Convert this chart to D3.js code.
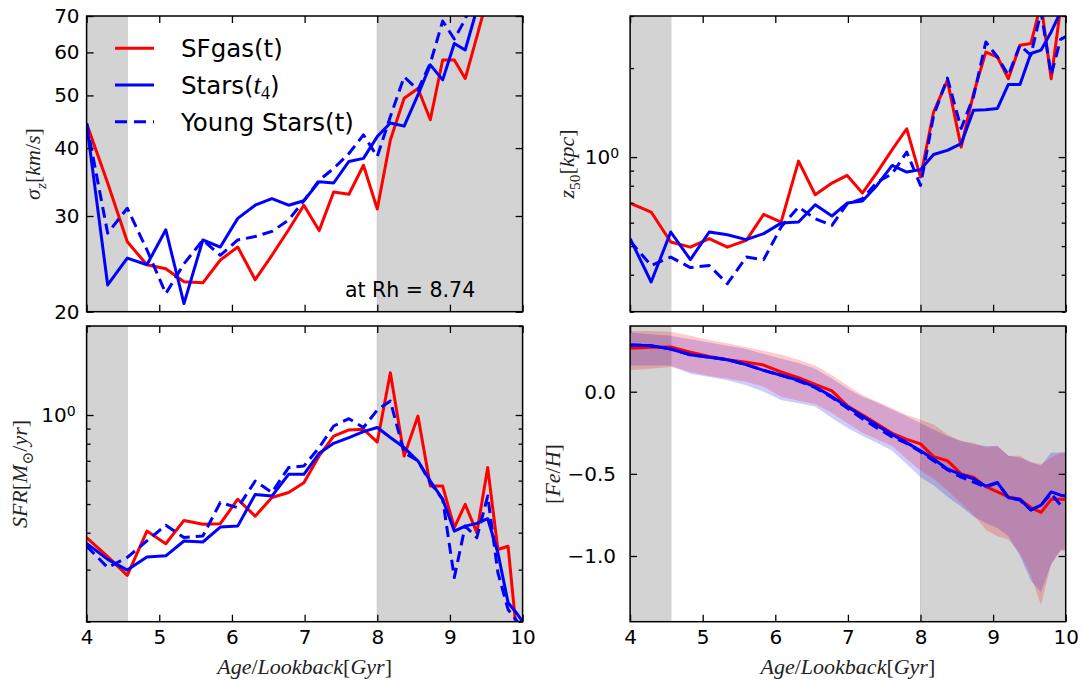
<!DOCTYPE html>
<html><head><meta charset="utf-8">
<script src="https://cdn.jsdelivr.net/npm/d3@7"></script>
<style>
body{margin:0;background:#fff}
</style>
</head><body>
<svg id="c" width="1083" height="684" font-family="DejaVu Sans"></svg>
<script>
// ---------------- data ----------------
const ages = [4.0, 4.29, 4.56, 4.83, 5.09, 5.34, 5.6, 5.84, 6.08, 6.32, 6.55, 6.78, 6.99, 7.2, 7.4, 7.61, 7.81, 8.0, 8.18, 8.37, 8.56, 8.73, 8.9, 9.06, 9.21, 9.37, 9.52, 9.66, 9.8, 9.93, 10.06];

const sigmaGas   = [44.4, 34.5, 26.9, 24.4, 24.0, 22.7, 22.6, 24.9, 26.3, 22.9, 25.4, 28.3, 31.4, 28.2, 33.2, 32.9, 37.2, 30.9, 41.4, 49.4, 51.5, 45.1, 58.1, 58.1, 53.7, 64.1, 76, 85, 92, 100, 110];
const sigmaStars = [44.4, 22.4, 25.1, 24.4, 28.3, 20.7, 27.1, 26.3, 29.7, 31.4, 32.3, 31.4, 32.0, 34.7, 34.5, 37.8, 38.3, 42.0, 44.5, 43.9, 50.1, 56.9, 53.4, 62.3, 60.6, 72, 82, 90, 100, 110, 120];
const sigmaYoung = [44.4, 27.9, 31.0, 26.0, 21.6, 24.5, 27.1, 25.4, 27.1, 27.5, 28.1, 29.5, 32.0, 34.9, 36.7, 39.1, 42.3, 38.6, 45.7, 54.1, 51.2, 57.3, 68.5, 63.5, 69, 80, 90, 100, 110, 120, 130];

const z50Gas   = [0.699, 0.652, 0.516, 0.496, 0.53, 0.496, 0.523, 0.64, 0.603, 0.969, 0.746, 0.817, 0.867, 0.756, 0.886, 1.06, 1.247, 0.856, 1.42, 1.817, 1.081, 1.64, 2.265, 2.18, 1.84, 2.39, 2.42, 3.3, 1.84, 3.2, 3.3];
const z50Stars = [0.53, 0.378, 0.558, 0.45, 0.558, 0.546, 0.526, 0.551, 0.598, 0.603, 0.69, 0.632, 0.699, 0.71, 0.802, 0.937, 0.89, 0.907, 1.02, 1.054, 1.11, 1.44, 1.445, 1.46, 1.76, 1.76, 2.24, 2.3, 2.65, 3.1, 3.3];
const z50Young = [0.52, 0.43, 0.459, 0.423, 0.43, 0.373, 0.459, 0.45, 0.58, 0.678, 0.619, 0.588, 0.695, 0.723, 0.823, 0.878, 1.04, 0.802, 1.38, 1.85, 1.25, 1.6, 2.45, 2.18, 1.89, 2.39, 2.21, 3.1, 1.9, 2.5, 2.6];

const sfrGas   = [0.385, 0.332, 0.287, 0.405, 0.367, 0.44, 0.427, 0.429, 0.519, 0.455, 0.526, 0.547, 0.59, 0.727, 0.849, 0.89, 0.895, 0.81, 1.39, 0.727, 0.992, 0.575, 0.575, 0.416, 0.499, 0.4, 0.664, 0.351, 0.36, 0.17, 0.15];
const sfrStars = [0.368, 0.325, 0.299, 0.331, 0.334, 0.375, 0.372, 0.418, 0.421, 0.539, 0.532, 0.63, 0.63, 0.742, 0.802, 0.839, 0.879, 0.907, 0.839, 0.776, 0.699, 0.598, 0.519, 0.405, 0.421, 0.43, 0.446, 0.342, 0.232, 0.212, 0.19];
const sfrYoung = [0.36, 0.305, 0.33, 0.375, 0.424, 0.385, 0.39, 0.506, 0.486, 0.598, 0.547, 0.664, 0.672, 0.776, 0.918, 0.972, 0.907, 1.04, 1.115, 0.746, 0.7, 0.59, 0.519, 0.282, 0.421, 0.385, 0.532, 0.293, 0.22, 0.2, 0.19];

const fehGas   = [0.265, 0.27, 0.272, 0.24, 0.215, 0.195, 0.18, 0.162, 0.12, 0.085, 0.045, 0.005, -0.085, -0.14, -0.195, -0.253, -0.29, -0.318, -0.395, -0.42, -0.5, -0.52, -0.578, -0.61, -0.64, -0.655, -0.705, -0.735, -0.655, -0.655, -0.66];
const fehStars = [0.285, 0.28, 0.26, 0.225, 0.21, 0.195, 0.165, 0.13, 0.1, 0.07, 0.03, -0.03, -0.09, -0.15, -0.205, -0.26, -0.31, -0.36, -0.41, -0.47, -0.505, -0.53, -0.575, -0.553, -0.645, -0.655, -0.72, -0.69, -0.61, -0.63, -0.64];
const fehYoung = [0.285, 0.28, 0.26, 0.225, 0.21, 0.195, 0.165, 0.13, 0.1, 0.065, 0.025, -0.035, -0.1, -0.165, -0.22, -0.275, -0.315, -0.365, -0.42, -0.475, -0.52, -0.55, -0.58, -0.555, -0.645, -0.66, -0.72, -0.69, -0.62, -0.69, -0.7];
const fehGasHi   = [0.37, 0.37, 0.365, 0.34, 0.315, 0.295, 0.27, 0.25, 0.225, 0.195, 0.16, 0.10, 0.04, -0.02, -0.06, -0.1, -0.14, -0.17, -0.2, -0.26, -0.3, -0.31, -0.34, -0.33, -0.39, -0.39, -0.43, -0.44, -0.4, -0.37, -0.37];
const fehGasLo   = [0.13, 0.14, 0.15, 0.12, 0.095, 0.08, 0.06, 0.03, -0.03, -0.055, -0.075, -0.13, -0.19, -0.25, -0.29, -0.33, -0.41, -0.48, -0.53, -0.6, -0.68, -0.75, -0.84, -0.88, -0.9, -0.98, -1.12, -1.3, -1.05, -0.97, -0.97];
const fehStarsHi = [0.36, 0.35, 0.34, 0.32, 0.3, 0.28, 0.26, 0.23, 0.2, 0.175, 0.14, 0.08, 0.02, -0.03, -0.065, -0.11, -0.15, -0.19, -0.23, -0.27, -0.3, -0.32, -0.33, -0.33, -0.39, -0.4, -0.43, -0.45, -0.37, -0.37, -0.37];
const fehStarsLo = [0.16, 0.16, 0.16, 0.11, 0.09, 0.07, 0.04, 0.0, -0.05, -0.07, -0.09, -0.16, -0.22, -0.27, -0.31, -0.36, -0.44, -0.52, -0.57, -0.64, -0.7, -0.76, -0.8, -0.83, -0.88, -1.0, -1.15, -1.22, -1.05, -0.96, -0.96];

const xTicks = [4, 5, 6, 7, 8, 9, 10];
const sigmaTicks = [20, 30, 40, 50, 60, 70];
const z50Major = [1];
const z50Minor = [0.3, 0.4, 0.5, 0.6, 0.7, 0.8, 0.9, 2, 3];
const sfrMajor = [1];
const sfrMinor = [0.2, 0.3, 0.4, 0.5, 0.6, 0.7, 0.8, 0.9, 2];
const fehTicks = [0.0, -0.5, -1.0];
const shadeSpans = [[4, 4.57], [8, 10]];
const legendLabels = ["SFgas(t)", "Stars(t4)", "Young Stars(t)"];
const annotation = "at Rh = 8.74";

// ---------------- layout ----------------
const svg = d3.select('#c');
const RED = '#ff0000', BLUE = '#0000ff';
const SERIF = '"Liberation Serif", "DejaVu Serif", serif';
const LAY = {
  tl: {x0: 86.6, x1: 522.6, y0: 16, y1: 311.7},
  tr: {x0: 630.1, x1: 1065.7, y0: 16, y1: 311.7},
  bl: {x0: 86.6, x1: 522.6, y0: 326, y1: 621.7},
  br: {x0: 630.1, x1: 1065.7, y0: 326, y1: 621.7}
};

function panel(L, yScale, id) {
  const x = d3.scaleLinear().domain([4, 10]).range([L.x0, L.x1]);
  const y = yScale.range([L.y1, L.y0]);
  svg.append('clipPath').attr('id', id).append('rect')
    .attr('x', L.x0).attr('y', L.y0).attr('width', L.x1 - L.x0).attr('height', L.y1 - L.y0);
  const g = svg.append('g');
  const body = g.append('g').attr('clip-path', `url(#${id})`);
  body.selectAll('rect.span').data(shadeSpans).join('rect').attr('class', 'span')
    .attr('x', d => x(d[0])).attr('width', d => x(d[1]) - x(d[0]))
    .attr('y', L.y0).attr('height', L.y1 - L.y0).attr('fill', '#d3d3d3');
  body.selectAll('line.spanedge').data(shadeSpans).join('line').attr('class','spanedge')
    .attr('x1', d => x(d[0])).attr('x2', d => x(d[0])).attr('y1', L.y0).attr('y2', L.y1)
    .attr('stroke', '#c8c8c8').attr('stroke-width', 1);
  return {g, body, x, y, L};
}

function drawLine(p, vals, color, dashed) {
  const line = d3.line().x((d, i) => p.x(ages[i])).y(d => p.y(d));
  p.body.append('path').datum(vals).attr('d', line)
    .attr('fill', 'none').attr('stroke', color).attr('stroke-width', 3)
    .attr('stroke-linejoin', 'round')
    .attr('stroke-dasharray', dashed ? '11,6' : null);
}

function drawBand(p, lo, hi, color) {
  const area = d3.area().x((d, i) => p.x(ages[i])).y0((d, i) => p.y(lo[i])).y1((d, i) => p.y(hi[i]));
  p.body.append('path').datum(lo).attr('d', area).attr('fill', color).attr('fill-opacity', 0.2);
}

function styleAxis(sel) {
  sel.select('.domain').remove();
  sel.selectAll('.tick line').attr('stroke', '#000').attr('stroke-width', 1.3);
  sel.attr('font-family', 'DejaVu Sans').attr('font-size', 20);
  sel.selectAll('text').attr('fill', '#000');
}

function axes(p, opt) {
  const L = p.L;
  const bx = d3.axisBottom(p.x).tickValues(xTicks).tickSizeInner(-7).tickSizeOuter(0).tickPadding(8)
    .tickFormat(opt.xLabels ? d3.format('d') : () => '');
  p.g.append('g').attr('transform', `translate(0,${L.y1})`).call(bx).call(styleAxis);
  const tx = d3.axisTop(p.x).tickValues(xTicks).tickSizeInner(-7).tickSizeOuter(0).tickFormat(() => '');
  p.g.append('g').attr('transform', `translate(0,${L.y0})`).call(tx).call(styleAxis);

  const ly = d3.axisLeft(p.y).tickValues(opt.major).tickSizeInner(-7).tickSizeOuter(0)
    .tickPadding(opt.pad).tickFormat(opt.fmt);
  const gl = p.g.append('g').attr('transform', `translate(${L.x0},0)`).call(ly).call(styleAxis);
  if (opt.sup) {
    gl.selectAll('text').text('10').append('tspan').attr('dy', '-0.45em').attr('font-size', 14).text('0');
  }
  const ry = d3.axisRight(p.y).tickValues(opt.major).tickSizeInner(-7).tickSizeOuter(0).tickFormat(() => '');
  p.g.append('g').attr('transform', `translate(${L.x1},0)`).call(ry).call(styleAxis);
  if (opt.minor) {
    const lm = d3.axisLeft(p.y).tickValues(opt.minor).tickSizeInner(-4).tickSizeOuter(0).tickFormat(() => '');
    p.g.append('g').attr('transform', `translate(${L.x0},0)`).call(lm).call(styleAxis);
    const rm = d3.axisRight(p.y).tickValues(opt.minor).tickSizeInner(-4).tickSizeOuter(0).tickFormat(() => '');
    p.g.append('g').attr('transform', `translate(${L.x1},0)`).call(rm).call(styleAxis);
  }
  p.g.append('rect').attr('x', L.x0).attr('y', L.y0).attr('width', L.x1 - L.x0).attr('height', L.y1 - L.y0)
    .attr('fill', 'none').attr('stroke', '#000').attr('stroke-width', 1.5);
}

// math-like label: parts = [text, italic, sub]
function mathText(x, y, parts, rotate, size) {
  const t = svg.append('text')
    .attr('transform', `translate(${x},${y})` + (rotate ? ' rotate(-90)' : ''))
    .attr('text-anchor', 'middle').attr('font-family', SERIF).attr('font-size', size).attr('fill', '#222');
  let subOn = false;
  parts.forEach(([s, it, sub]) => {
    const ts = t.append('tspan').text(s).attr('font-style', it ? 'italic' : 'normal');
    if (sub && !subOn) { ts.attr('dy', size * 0.25).attr('font-size', size * 0.7); subOn = true; }
    else if (sub) { ts.attr('font-size', size * 0.7); }
    else if (!sub && subOn) { ts.attr('dy', -size * 0.25); subOn = false; }
  });
  return t;
}

// ---------------- panels ----------------
const pTL = panel(LAY.tl, d3.scaleLog().domain([20, 70]), 'c1');
drawLine(pTL, sigmaGas, RED, false);
drawLine(pTL, sigmaStars, BLUE, false);
drawLine(pTL, sigmaYoung, BLUE, true);
axes(pTL, {major: sigmaTicks, fmt: d3.format('d'), pad: 7, xLabels: false});

const pTR = panel(LAY.tr, d3.scaleLog().domain([0.3, 3.0]), 'c2');
drawLine(pTR, z50Gas, RED, false);
drawLine(pTR, z50Stars, BLUE, false);
drawLine(pTR, z50Young, BLUE, true);
axes(pTR, {major: z50Major, minor: z50Minor, fmt: d3.format('d'), pad: 11, sup: true, xLabels: false});

const pBL = panel(LAY.bl, d3.scaleLog().domain([0.2, 2.0]), 'c3');
drawLine(pBL, sfrGas, RED, false);
drawLine(pBL, sfrStars, BLUE, false);
drawLine(pBL, sfrYoung, BLUE, true);
axes(pBL, {major: sfrMajor, minor: sfrMinor, fmt: d3.format('d'), pad: 11, sup: true, xLabels: true});

const pBR = panel(LAY.br, d3.scaleLinear().domain([-1.4, 0.4]), 'c4');
drawBand(pBR, fehStarsLo, fehStarsHi, BLUE);
drawBand(pBR, fehGasLo, fehGasHi, RED);
drawLine(pBR, fehGas, RED, false);
drawLine(pBR, fehStars, BLUE, false);
drawLine(pBR, fehYoung, BLUE, true);
axes(pBR, {major: fehTicks, fmt: d3.format('.1f'), pad: 14, xLabels: true});

// ---------------- labels ----------------
mathText(40, 164, [['σ', true], ['z', true, true], ['[', false], ['km', true], ['/', false], ['s', true], [']', false]], true, 22);
mathText(574, 164, [['z', true], ['50', false, true], ['[', false], ['kpc', true], [']', false]], true, 22);
mathText(27, 474, [['SFR', true], ['[', false], ['M', true], ['⊙', false, true], ['/', false], ['yr', true], [']', false]], true, 22);
mathText(560, 474, [['[', false], ['Fe', true], ['/', false], ['H', true], [']', false]], true, 22);
mathText((LAY.bl.x0 + LAY.bl.x1) / 2, 674, [['Age', true], ['/', false], ['Lookback', true], ['[', false], ['Gyr', true], [']', false]], false, 22);
mathText((LAY.br.x0 + LAY.br.x1) / 2, 674, [['Age', true], ['/', false], ['Lookback', true], ['[', false], ['Gyr', true], [']', false]], false, 22);

// annotation
svg.append('text').attr('x', 345).attr('y', 297).attr('font-size', 20.5).text(annotation);

// legend
const legY = [48.3, 85, 121.7];
const legStyle = [[RED, false], [BLUE, false], [BLUE, true]];
legendLabels.forEach((lab, i) => {
  svg.append('line').attr('x1', 115).attr('x2', 154).attr('y1', legY[i]).attr('y2', legY[i])
    .attr('stroke', legStyle[i][0]).attr('stroke-width', 3)
    .attr('stroke-dasharray', legStyle[i][1] ? '12,7' : null);
  const t = svg.append('text').attr('x', 181).attr('y', legY[i] + 8.8).attr('font-size', 24.5);
  if (lab === 'Stars(t4)') {
    t.append('tspan').text('Stars(');
    t.append('tspan').text('t').attr('font-family', SERIF).attr('font-style', 'italic').attr('font-size', 27);
    t.append('tspan').text('4').attr('font-family', SERIF).attr('font-size', 18).attr('dy', 5);
    t.append('tspan').text(')').attr('dy', -5);
  } else {
    t.text(lab);
  }
});
</script>
</body></html>
